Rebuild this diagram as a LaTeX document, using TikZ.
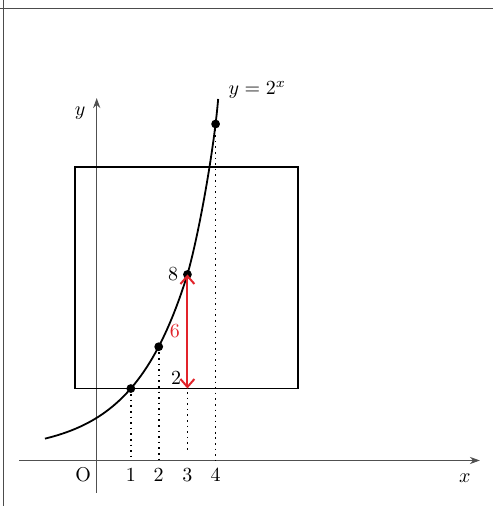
\documentclass[tikz,border=0pt]{standalone}
\usepackage{xcolor}
\usepackage{tikz}
\usetikzlibrary{arrows.meta,positioning}
\definecolor{axisgray}{HTML}{505050}
\definecolor{gapred}{HTML}{E2232A}

\begin{document}
\begin{tikzpicture}[x=0.5cm,y=0.5cm,
  axis/.style={draw=axisgray,line width=0.5pt,-{Stealth[length=5pt,width=3.6pt]}},
  frame/.style={draw=black!70,line width=0.6pt},
  region/.style={draw,line width=0.8pt},
  curve/.style={draw,line width=0.9pt},
  guide/.style={dotted,line width=0.8pt},
  pt/.style={circle,fill,inner sep=0pt,minimum size=4.4pt},
  gap/.style={draw=gapred,line width=1pt,{Straight Barb[length=4pt,width=7pt]}-{Straight Barb[length=4pt,width=7pt]}},
  valuelabel/.style={inner sep=1pt}
]
\useasboundingbox (-3.40,-1.60) rectangle (13.93,16.19);

% Frame edges
\draw[frame] (-3.40,15.89) -- (13.93,15.89);
\draw[frame] (-3.28,16.19) -- (-3.28,-1.60);

% Axes
\coordinate (O) at (0,0);
\coordinate (xstart) at (-2.73,0);
\coordinate (xend) at (13.47,0);
\coordinate (ystart) at (0,-1.14);
\coordinate (yend) at (0,12.74);
\draw[axis] (xstart) -- (xend);
\draw[axis] (ystart) -- (yend);
\node (xlab) at (12.94,-0.62) {$x$};
\node (ylab) at (-0.58,12.21) {$y$};
\node (olab) at (-0.48,-0.51) {O};

% Square
\draw[region] (-0.76,2.53) rectangle (7.08,10.32);

% Curve y = 2^x
\draw[curve] plot[domain=-1.82:3.19,samples=50] (\x,{0.3+1.2*exp(0.517*\x)})
  .. controls (3.59,7.94) and (4.12,10.91) .. (4.27,12.71);
\node[right] (flab) at (4.39,13.02) {$y=2^x$};

% Points on the curve
\node[pt] (p1) at (1.2,2.53) {};
\node[pt] (p2) at (2.18,4.00) {};
\node[pt] (p3) at (3.19,6.54) {};
\node[pt] (p4) at (4.18,11.83) {};
\coordinate (b3) at (3.19,2.53);

% Guides to the x axis
\foreach \i/\e in {1/0,2/0,3/0.25,4/0}
  \draw[guide] (p\i.center) -- (p\i.center |- 0,\e);

% Difference 8 - 2
\draw[gap] (b3) -- node[left,text=gapred] (dlab) {6} (p3.center);

% Tick labels
\foreach \i/\xx in {1/1.2,2/2.18,3/3.19,4/4.18}
  \node (t\i) at (\xx,-0.51) {\i};

% Values
\node[valuelabel,left=1pt of p3] (v8) {8};
\node[valuelabel] (v2) at (2.79,2.9) {2};

\end{tikzpicture}
\end{document}
